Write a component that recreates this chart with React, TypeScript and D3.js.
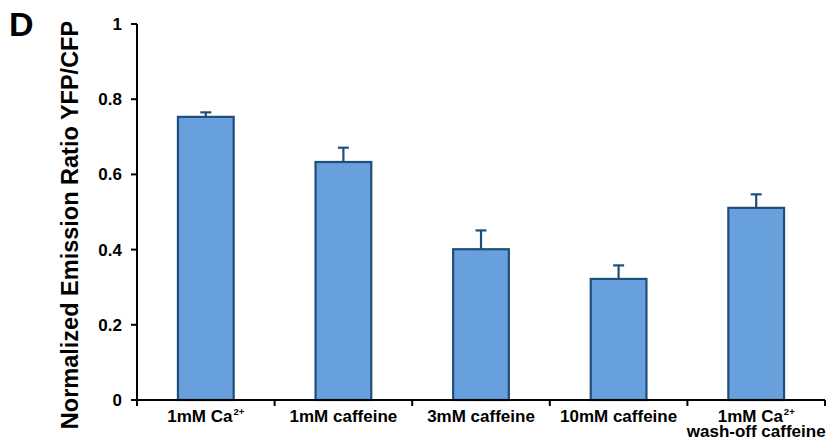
import React from "react";
import * as d3 from "d3";

const categories = ["1mM Ca2+", "1mM caffeine", "3mM caffeine", "10mM caffeine", "1mM Ca2+ wash-off caffeine"];
const means = [0.753, 0.633, 0.401, 0.322, 0.511];
const errors = [0.012, 0.038, 0.05, 0.036, 0.036];
const yTicks = [0, 0.2, 0.4, 0.6, 0.8, 1];
const yTickLabels = ["0", "0.2", "0.4", "0.6", "0.8", "1"];

const W = 834, H = 439;
const left = 137, right = 825, top = 24, bottom = 400;
const FONT = "'Liberation Sans', Arial, sans-serif";
const FILL = "#67a0dc";
const STROKE = "#1f4e79";
const LBL = 17;

function Sup() {
  return <tspan fontSize={9.5} dy={-7} dx={1}>2+</tspan>;
}

function Label({ text, x }: { text: string; x: number }) {
  if (text.includes("wash-off")) {
    return (
      <text x={x} y={422} textAnchor="middle" fontFamily={FONT} fontWeight="bold" fontSize={LBL} fill="#000">
        <tspan x={x} y={422}>1mM Ca<Sup /></tspan>
        <tspan x={x} y={436.5}>wash-off caffeine</tspan>
      </text>
    );
  }
  const parts = text.split("2+");
  return (
    <text x={x} y={422} textAnchor="middle" fontFamily={FONT} fontWeight="bold" fontSize={LBL} fill="#000">
      {parts[0]}
      {parts.length > 1 ? <Sup /> : null}
    </text>
  );
}

export default function App() {
  const x = d3.scaleBand<string>().domain(categories).range([left, right]).paddingInner(0.595).paddingOuter(0.2975);
  const y = d3.scaleLinear().domain([0, 1]).range([bottom, top]);
  const band = d3.scaleBand<string>().domain(categories).range([left, right]);
  const bw = x.bandwidth();
  return (
    <svg width={W} height={H} style={{ position: "absolute", left: 0, top: 0 }}>
      <rect width={W} height={H} fill="#fff" />
      <text x={9} y={36} fontFamily={FONT} fontWeight="bold" fontSize={34} fill="#000">D</text>
      <text transform={`translate(78,225) rotate(-90)`} textAnchor="middle" fontFamily={FONT} fontWeight="bold" fontSize={23.5} fill="#000">
        Normalized Emission Ratio YFP/CFP
      </text>
      {categories.map((c, i) => {
        const cx = x(c)! + bw / 2;
        return (
          <g key={c}>
            <line x1={cx} x2={cx} y1={y(means[i])} y2={y(means[i] + errors[i])} stroke={STROKE} strokeWidth={2.2} />
            <line x1={cx - 5.5} x2={cx + 5.5} y1={y(means[i] + errors[i])} y2={y(means[i] + errors[i])} stroke={STROKE} strokeWidth={2.2} />
            <rect x={x(c)!} y={y(means[i])} width={bw} height={bottom - y(means[i])} fill={FILL} stroke={STROKE} strokeWidth={2.2} />
          </g>
        );
      })}
      <line x1={left} x2={left} y1={top} y2={bottom} stroke="#000" strokeWidth={2} />
      <line x1={left} x2={right} y1={bottom} y2={bottom} stroke="#000" strokeWidth={2} />
      {yTicks.map((t, i) => (
        <g key={t}>
          <line x1={left - 6} x2={left} y1={y(t)} y2={y(t)} stroke="#000" strokeWidth={2} />
          <text x={122} y={y(t) + 6} textAnchor="end" fontFamily={FONT} fontWeight="bold" fontSize={17} fill="#000">{yTickLabels[i]}</text>
        </g>
      ))}
      {categories.map((c) => (
        <line key={c} x1={band(c)!} x2={band(c)!} y1={bottom} y2={bottom + 6} stroke="#000" strokeWidth={2} />
      ))}
      <line x1={right} x2={right} y1={bottom} y2={bottom + 6} stroke="#000" strokeWidth={2} />
      {categories.map((c) => (
        <Label key={c} text={c} x={band(c)! + band.bandwidth() / 2} />
      ))}
    </svg>
  );
}
